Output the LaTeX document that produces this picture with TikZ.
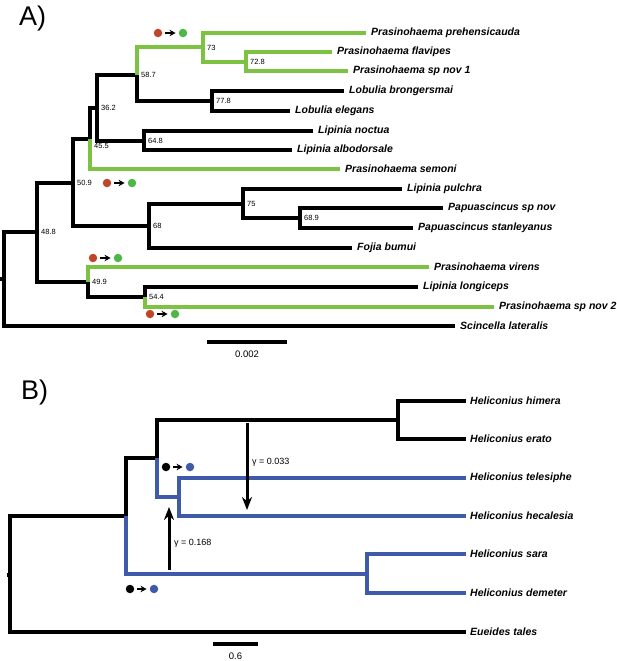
\documentclass[tikz,border=0pt]{standalone}
\usepackage{fontspec}
\setmainfont{Liberation Sans}
\usetikzlibrary{arrows.meta}
\definecolor{lgreen}{HTML}{7DC243}
\definecolor{dgreen}{HTML}{4CB848}
\definecolor{brick}{HTML}{C0452A}
\definecolor{hblue}{HTML}{3F5AA8}
\begin{document}
\begin{tikzpicture}[x=1pt,y=-1pt,
  br/.style={line width=4pt},
  blk/.style={br,black},
  grn/.style={br,lgreen},
  blu/.style={br,hblue},
  sp/.style={anchor=west,inner sep=0pt,font=\fontsize{10.5}{12}\selectfont\bfseries\itshape},
  bs/.style={anchor=west,inner sep=0pt,font=\fontsize{7.5}{9}\selectfont},
  gl/.style={anchor=west,inner sep=0pt,font=\fontsize{9}{11}\selectfont},
  sc/.style={inner sep=0pt,font=\fontsize{9.5}{11}\selectfont},
  panel/.style={anchor=west,inner sep=0pt,font=\fontsize{27}{30}\selectfont},
  dot/.style={circle,inner sep=0pt,minimum size=8.5pt},
  smallarr/.style={-{Stealth[length=6pt,width=6.5pt]},line width=1.5pt,shorten <=3pt,shorten >=3pt},
  genearr/.style={-{Stealth[length=13pt,width=10pt]},line width=3pt}
]
\useasboundingbox (0,0) rectangle (617,661);

% ---------------- Panel A ----------------
\node[panel] (pA) at (19,19) {A)};

\coordinate (stubA) at (0,279);
\coordinate (rA) at (4,279);
\coordinate (n488) at (37,232);
\coordinate (n509) at (73,183);
\coordinate (n499) at (88,282);
\coordinate (n455) at (90,139);
\coordinate (n362) at (97,108);
\coordinate (n587) at (137,75);
\coordinate (n73) at (203,47.5);
\coordinate (n728) at (246,62);
\coordinate (n778) at (212,101);
\coordinate (n648) at (144,140.5);
\coordinate (n68) at (149,226);
\coordinate (n75) at (243,203.5);
\coordinate (n689) at (300,218);
\coordinate (n544) at (145,297);

\coordinate (tPre) at (366,33);
\coordinate (tFla) at (332,52);
\coordinate (tSp1) at (348,71);
\coordinate (tBro) at (344,91);
\coordinate (tEle) at (290,111);
\coordinate (tNoc) at (313,131);
\coordinate (tAlb) at (292,150);
\coordinate (tSem) at (340,169);
\coordinate (tPul) at (402,189);
\coordinate (tPsp) at (443,208);
\coordinate (tSta) at (413,228);
\coordinate (tFoj) at (352,248);
\coordinate (tVir) at (429,267);
\coordinate (tLon) at (418,287);
\coordinate (tSp2) at (494,307);
\coordinate (tSci) at (455,326);

\draw[blk] (stubA) -- (rA);
\draw[blk] (rA) |- (n488);
\draw[blk] (rA) |- (tSci);
\draw[blk] (n488) |- (n509);
\draw[blk] (n488) |- (n499);
\draw[blk] (n509) |- (n455);
\draw[blk] (n509) |- (n68);
\draw[blk] (n455) |- (n362);
\draw[grn] (n455) |- (tSem);
\draw[blk] (n362) |- (n587);
\draw[blk] (n362) |- (n648);
\draw[grn] (n587) |- (n73);
\draw[blk] (n587) |- (n778);
\draw[grn] (n73) |- (tPre);
\draw[grn] (n73) |- (n728);
\draw[grn] (n728) |- (tFla);
\draw[grn] (n728) |- (tSp1);
\draw[blk] (n778) |- (tBro);
\draw[blk] (n778) |- (tEle);
\draw[blk] (n648) |- (tNoc);
\draw[blk] (n648) |- (tAlb);
\draw[blk] (n68) |- (n75);
\draw[blk] (n68) |- (tFoj);
\draw[blk] (n75) |- (tPul);
\draw[blk] (n75) |- (n689);
\draw[blk] (n689) |- (tPsp);
\draw[blk] (n689) |- (tSta);
\draw[grn] (n499) |- (tVir);
\draw[blk] (n499) |- (n544);
\draw[blk] (n544) |- (tLon);
\draw[grn] (n544) |- (tSp2);

\node[sp] (lPre) at ([xshift=5pt]tPre) {Prasinohaema prehensicauda};
\node[sp] (lFla) at ([xshift=5pt]tFla) {Prasinohaema flavipes};
\node[sp] (lSp1) at ([xshift=5pt]tSp1) {Prasinohaema sp nov 1};
\node[sp] (lBro) at ([xshift=5pt]tBro) {Lobulia brongersmai};
\node[sp] (lEle) at ([xshift=5pt]tEle) {Lobulia elegans};
\node[sp] (lNoc) at ([xshift=5pt]tNoc) {Lipinia noctua};
\node[sp] (lAlb) at ([xshift=5pt]tAlb) {Lipinia albodorsale};
\node[sp] (lSem) at ([xshift=5pt]tSem) {Prasinohaema semoni};
\node[sp] (lPul) at ([xshift=5pt]tPul) {Lipinia pulchra};
\node[sp] (lPsp) at ([xshift=5pt]tPsp) {Papuascincus sp nov};
\node[sp] (lSta) at ([xshift=5pt]tSta) {Papuascincus stanleyanus};
\node[sp] (lFoj) at ([xshift=5pt]tFoj) {Fojia bumui};
\node[sp] (lVir) at ([xshift=5pt]tVir) {Prasinohaema virens};
\node[sp] (lLon) at ([xshift=5pt]tLon) {Lipinia longiceps};
\node[sp] (lSp2) at ([xshift=5pt]tSp2) {Prasinohaema sp nov 2};
\node[sp] (lSci) at ([xshift=5pt]tSci) {Scincella lateralis};

\node[bs] (b73) at ([xshift=4pt]n73) {73};
\node[bs] (b728) at ([xshift=4pt]n728) {72.8};
\node[bs] (b587) at ([xshift=4pt]n587) {58.7};
\node[bs] (b778) at ([xshift=4pt]n778) {77.8};
\node[bs] (b362) at ([xshift=4pt]n362) {36.2};
\node[bs] (b648) at ([xshift=4pt]n648) {64.8};
\node[bs] (b455) at ([xshift=4pt,yshift=-7pt]n455) {45.5};
\node[bs] (b509) at ([xshift=4pt]n509) {50.9};
\node[bs] (b75) at ([xshift=4pt]n75) {75};
\node[bs] (b689) at ([xshift=4pt]n689) {68.9};
\node[bs] (b68) at ([xshift=4pt]n68) {68};
\node[bs] (b488) at ([xshift=4pt]n488) {48.8};
\node[bs] (b499) at ([xshift=4pt]n499) {49.9};
\node[bs] (b544) at ([xshift=4pt]n544) {54.4};

\node[dot,fill=brick] (a1r) at (158,33) {};
\node[dot,fill=dgreen] (a1g) at (183,33) {};
\draw[smallarr] (a1r) -- (a1g);
\node[dot,fill=brick] (a2r) at (107,183) {};
\node[dot,fill=dgreen] (a2g) at (132,183) {};
\draw[smallarr] (a2r) -- (a2g);
\node[dot,fill=brick] (a3r) at (93,258) {};
\node[dot,fill=dgreen] (a3g) at (118,258) {};
\draw[smallarr] (a3r) -- (a3g);
\node[dot,fill=brick] (a4r) at (150,314) {};
\node[dot,fill=dgreen] (a4g) at (175,314) {};
\draw[smallarr] (a4r) -- (a4g);

\coordinate (sA1) at (207,342);
\coordinate (sA2) at (287,342);
\draw[blk] (sA1) -- (sA2);
\node[sc] (sAl) at (247,354) {0.002};

% ---------------- Panel B ----------------
\node[panel] (pB) at (21,393) {B)};

\coordinate (stubB) at (7,574.5);
\coordinate (rB) at (10,574.5);
\coordinate (nb1) at (126,515.5);
\coordinate (nb2) at (157,458);
\coordinate (nb3) at (398,420);
\coordinate (nb4) at (179,497);
\coordinate (nb5) at (367,573.5);

\coordinate (tHim) at (466,401);
\coordinate (tEra) at (466,439);
\coordinate (tTel) at (466,478);
\coordinate (tHec) at (466,516);
\coordinate (tSar) at (466,554);
\coordinate (tDem) at (466,593);
\coordinate (tEue) at (466,632);

\draw[blk] (stubB) -- (rB);
\draw[blk] (rB) |- (nb1);
\draw[blk] (rB) |- (tEue);
\draw[blk] (nb1) |- (nb2);
\draw[blu] (nb1) |- (nb5);
\draw[blk] (nb2) |- (nb3);
\draw[blu] (nb2) |- (nb4);
\draw[blk] (nb3) |- (tHim);
\draw[blk] (nb3) |- (tEra);
\draw[blu] (nb4) |- (tTel);
\draw[blu] (nb4) |- (tHec);
\draw[blu] (nb5) |- (tSar);
\draw[blu] (nb5) |- (tDem);

\node[sp] (lHim) at ([xshift=4pt]tHim) {Heliconius himera};
\node[sp] (lEra) at ([xshift=4pt]tEra) {Heliconius erato};
\node[sp] (lTel) at ([xshift=4pt]tTel) {Heliconius telesiphe};
\node[sp] (lHec) at ([xshift=4pt]tHec) {Heliconius hecalesia};
\node[sp] (lSar) at ([xshift=4pt]tSar) {Heliconius sara};
\node[sp] (lDem) at ([xshift=4pt]tDem) {Heliconius demeter};
\node[sp] (lEue) at ([xshift=4pt]tEue) {Eueides tales};

\coordinate (g1s) at (247,423);
\coordinate (g1e) at (247,510);
\draw[genearr] (g1s) -- (g1e);
\node[gl] (g1l) at (252,462) {γ = 0.033};
\coordinate (g2s) at (169,570);
\coordinate (g2e) at (169,507);
\draw[genearr] (g2s) -- (g2e);
\node[gl] (g2l) at (174,543) {γ = 0.168};

\node[dot,fill=black] (b1k) at (166,467) {};
\node[dot,fill=hblue] (b1b) at (190,467) {};
\draw[smallarr] (b1k) -- (b1b);
\node[dot,fill=black] (b2k) at (130,589) {};
\node[dot,fill=hblue] (b2b) at (154,589) {};
\draw[smallarr] (b2k) -- (b2b);

\coordinate (sB1) at (213,644);
\coordinate (sB2) at (258,644);
\draw[blk] (sB1) -- (sB2);
\node[sc] (sBl) at (235.5,656) {0.6};
\end{tikzpicture}
\end{document}
